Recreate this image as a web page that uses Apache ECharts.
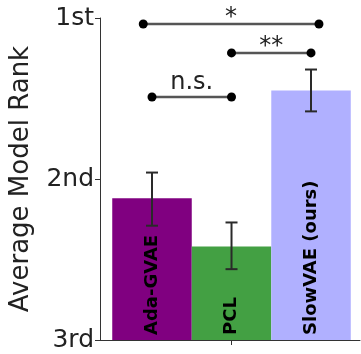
<!DOCTYPE html>
<html><head><meta charset="utf-8">
<script src="https://cdn.jsdelivr.net/npm/echarts@6/dist/echarts.min.js"></script>
<style>html,body{margin:0;padding:0;background:#fff}#c{width:361px;height:354px}</style>
</head><body><div id="c"></div>
<script>
const models = ['Ada-GVAE', 'PCL', 'SlowVAE (ours)'];
const meanRank = [2.12, 2.42, 1.45];
const errLow = [1.96, 2.27, 1.32];
const errHigh = [2.29, 2.56, 1.58];
const barColors = ['#800080', '#43a043', '#b0b0ff'];
const rankTicks = ['1st', '2nd', '3rd'];
// significance brackets: from, to, level (rank), text
const bracketFrom = [-0.11, 1, 0];
const bracketTo = [2.1, 2, 1];
const bracketLevel = [1.037, 1.217, 1.491];
const bracketText = ['*', '**', 'n.s.'];

const FONT = 'DejaVu Sans';
const chart = echarts.init(document.getElementById('c'));

chart.setOption({
  animation: false,
  backgroundColor: '#fff',
  grid: { left: 100, right: 1, top: 18, bottom: 14 },
  xAxis: {
    type: 'value', min: -0.654, max: 2.616,
    axisLine: { show: true, onZero: false, lineStyle: { color: '#333', width: 1 } },
    axisTick: { show: true, customValues: [1], length: 5, lineStyle: { color: '#333' } },
    axisLabel: { show: false },
    splitLine: { show: false }
  },
  yAxis: {
    type: 'value', inverse: true, min: 1, max: 3, interval: 1,
    name: 'Average Model Rank', nameLocation: 'middle', nameGap: 66,
    nameTextStyle: { fontFamily: FONT, fontSize: 26, color: '#222' },
    axisLine: { show: true, onZero: false, lineStyle: { color: '#333', width: 1 } },
    axisTick: { show: true, length: 5, lineStyle: { color: '#333' } },
    axisLabel: {
      formatter: v => rankTicks[Math.round(v) - 1],
      fontFamily: FONT, fontSize: 25, color: '#222', margin: 6
    },
    splitLine: { show: false }
  },
  series: [
    {
      type: 'custom',
      data: models.map((m, i) => [i, meanRank[i]]),
      renderItem: (params, api) => {
        const i = api.value(0), v = api.value(1);
        const p0 = api.coord([i - 0.5, v]);
        const p1 = api.coord([i + 0.5, 3]);
        return {
          type: 'group', children: [
            { type: 'rect', shape: { x: p0[0], y: p0[1], width: p1[0] - p0[0], height: p1[1] - p0[1] },
              style: { fill: barColors[i] } },
            { type: 'text', x: (p0[0] + p1[0]) / 2, y: p1[1] - 5, rotation: Math.PI / 2,
              style: { text: models[i], fill: '#000', fontFamily: FONT, fontWeight: 'bold', fontSize: 18,
                align: 'left', verticalAlign: 'middle' } }
          ]
        };
      }
    },
    {
      type: 'custom',
      data: models.map((m, i) => [i, errLow[i], errHigh[i]]),
      renderItem: (params, api) => {
        const i = api.value(0);
        const a = api.coord([i, api.value(1)]);
        const b = api.coord([i, api.value(2)]);
        const st = { stroke: '#2a2a2a', lineWidth: 2 };
        return {
          type: 'group', children: [
            { type: 'line', shape: { x1: a[0], y1: a[1], x2: b[0], y2: b[1] }, style: st },
            { type: 'line', shape: { x1: a[0] - 6, y1: a[1], x2: a[0] + 6, y2: a[1] }, style: st },
            { type: 'line', shape: { x1: b[0] - 6, y1: b[1], x2: b[0] + 6, y2: b[1] }, style: st }
          ]
        };
      }
    },
    {
      type: 'custom',
      clip: false,
      data: bracketText.map((t, k) => [bracketFrom[k], bracketTo[k], bracketLevel[k], k]),
      renderItem: (params, api) => {
        const k = api.value(3);
        const a = api.coord([api.value(0), api.value(2)]);
        const b = api.coord([api.value(1), api.value(2)]);
        const isStar = /^\*+$/.test(bracketText[k]);
        return {
          type: 'group', children: [
            { type: 'line', shape: { x1: a[0], y1: a[1], x2: b[0], y2: b[1] }, style: { stroke: '#555', lineWidth: 2.5 } },
            { type: 'circle', shape: { cx: a[0], cy: a[1], r: 4.5 }, style: { fill: '#000' } },
            { type: 'circle', shape: { cx: b[0], cy: b[1], r: 4.5 }, style: { fill: '#000' } },
            { type: 'text', x: (a[0] + b[0]) / 2, y: a[1] + (isStar ? 6 : -2),
              style: { text: bracketText[k], fill: '#222', fontFamily: FONT, fontSize: 24,
                align: 'center', verticalAlign: 'bottom' } }
          ]
        };
      }
    }
  ]
});
</script>
</body></html>
